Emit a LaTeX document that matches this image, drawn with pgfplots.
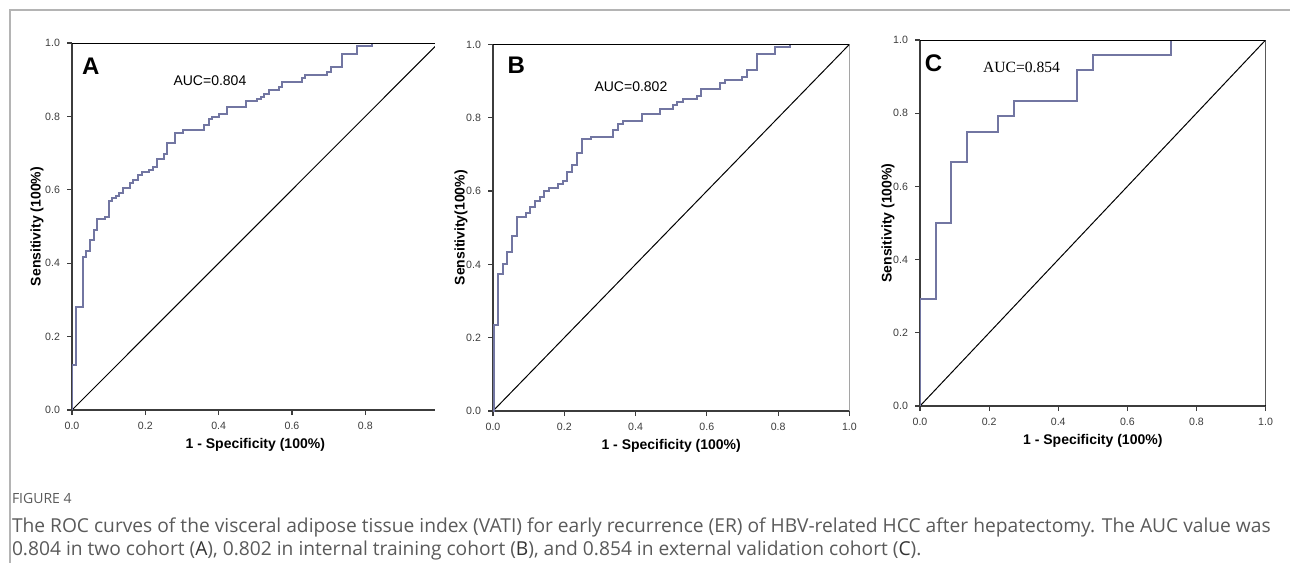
\documentclass[border=0pt]{standalone}
\usepackage{fontspec}
\setmainfont{Liberation Sans}
\newfontfamily\timesfont{Liberation Serif}
\newfontfamily\capfont{Open Sans}
\usepackage{pgfplots}
\pgfplotsset{compat=1.18}

\definecolor{rocline}{HTML}{7276A2}
\definecolor{axisgray}{HTML}{3C3C3C}
\definecolor{framegray}{HTML}{B4B4B4}
\definecolor{captext}{HTML}{5A5A5A}

% one ROC panel, 1px of the reference = 0.5pt
\pgfplotsset{rocpanel/.style={
    scale only axis, anchor=south west,
    xmin=0, ymin=0, ymax=1,
    axis lines*=left,
    axis line style={-, axisgray, line width=0.8pt},
    xtick={0,0.2,0.4,0.6,0.8,1.0},
    ytick={0,0.2,0.4,0.6,0.8,1.0},
    tick align=outside, major tick length=2.5pt,
    tick style={axisgray, line width=0.6pt},
    tick label style={font=\fontsize{5.3}{6}\selectfont, text=axisgray},
    /pgf/number format/fixed, /pgf/number format/fixed zerofill,
    /pgf/number format/precision=1, /pgf/number format/assume math mode=true,
    label style={font=\fontsize{7}{8}\selectfont\bfseries},
    xlabel={1 - Specificity (100\%)},
  },
  roc/.style={const plot, rocline, line width=1pt, mark=none},
  diag/.style={black, line width=0.5pt, mark=none},
}

\begin{document}
\begin{tikzpicture}
\useasboundingbox (0,0) rectangle (645pt,-281.5pt);
\draw[framegray, line width=0.7pt] (645pt,-5pt) -- (5pt,-5pt) -- (5pt,-281.5pt);

% ---- A
\begin{axis}[rocpanel, at={(36pt,-205pt)}, width=181.5pt, height=183.5pt,
    xmax=0.99, xtick={0,0.2,0.4,0.6,0.8},
    ylabel={Sensitivity (100\%)},
    ylabel style={at={(rel axis cs:-0.0964,0.5)}, anchor=center},
    xlabel style={at={(rel axis cs:0.505,-0.095)}, anchor=center}]
  \addplot[diag] coordinates {(0,0) (1,1)};
  \addplot[roc] coordinates {
    (0,0) (0,0.123) (0.011,0.281) (0.031,0.418) (0.038,0.434) (0.049,0.463)
    (0.060,0.490) (0.069,0.520) (0.090,0.527) (0.101,0.569) (0.110,0.577)
    (0.119,0.583) (0.128,0.592) (0.138,0.606) (0.158,0.618) (0.167,0.627)
    (0.179,0.641) (0.191,0.649) (0.211,0.654) (0.220,0.663) (0.231,0.684)
    (0.251,0.698) (0.260,0.727) (0.281,0.756) (0.302,0.763) (0.361,0.777)
    (0.373,0.792) (0.383,0.799) (0.401,0.806) (0.424,0.826) (0.475,0.843)
    (0.504,0.848) (0.515,0.854) (0.525,0.861) (0.536,0.872) (0.565,0.879)
    (0.574,0.894) (0.626,0.906) (0.635,0.913) (0.695,0.922) (0.706,0.934)
    (0.737,0.970) (0.778,0.991) (0.817,1.0) (1,1)};
  \draw[black, line width=0.5pt] (rel axis cs:0,1) -- (rel axis cs:1,1);
  \node[font=\fontsize{12}{14}\selectfont\bfseries] at (rel axis cs:0.052,0.937) {A};
  \node[font=\fontsize{7}{8}\selectfont] at (rel axis cs:0.380,0.896) {AUC=0.804};
\end{axis}

% ---- B
\begin{axis}[rocpanel, at={(246.5pt,-205.5pt)}, width=178.2pt, height=183.3pt,
    xmax=1,
    ylabel={Sensitivity(100\%)},
    ylabel style={at={(rel axis cs:-0.0898,0.5)}, anchor=center},
    xlabel style={at={(rel axis cs:0.5,-0.0946)}, anchor=center}]
  \addplot[diag] coordinates {(0,0) (1,1)};
  \addplot[roc] coordinates {
    (0,0) (0.004,0.235) (0.015,0.374) (0.027,0.400) (0.040,0.434) (0.053,0.478)
    (0.066,0.530) (0.093,0.539) (0.104,0.557) (0.117,0.574) (0.132,0.583)
    (0.143,0.600) (0.157,0.609) (0.183,0.618) (0.196,0.627) (0.208,0.653)
    (0.221,0.671) (0.235,0.704) (0.249,0.741) (0.274,0.748) (0.338,0.766)
    (0.352,0.782) (0.364,0.791) (0.417,0.809) (0.469,0.825) (0.506,0.834)
    (0.517,0.843) (0.532,0.852) (0.572,0.860) (0.583,0.879) (0.637,0.894)
    (0.650,0.903) (0.700,0.912) (0.712,0.930) (0.740,0.975) (0.791,0.992)
    (0.832,1.0) (1,1)};
  \draw[black, line width=0.5pt] (rel axis cs:0,1) -- (rel axis cs:1,1) -- (rel axis cs:1,0);
  \node[font=\fontsize{12}{14}\selectfont\bfseries] at (rel axis cs:0.065,0.944) {B};
  \node[font=\fontsize{7}{8}\selectfont] at (rel axis cs:0.387,0.884) {AUC=0.802};
\end{axis}

% ---- C
\begin{axis}[rocpanel, at={(460pt,-203pt)}, width=172.8pt, height=183pt,
    xmax=1,
    ylabel={Sensitivity (100\%)},
    ylabel style={at={(rel axis cs:-0.0926,0.5)}, anchor=center},
    xlabel style={at={(rel axis cs:0.5,-0.0956)}, anchor=center}]
  \addplot[diag] coordinates {(0,0) (1,1)};
  \addplot[roc] coordinates {
    (0,0) (0,0.292) (0.045,0.500) (0.091,0.667) (0.136,0.750) (0.227,0.792)
    (0.273,0.833) (0.455,0.917) (0.500,0.958) (0.727,1.0) (1,1)};
  \draw[black, line width=0.5pt] (rel axis cs:0,1) -- (rel axis cs:1,1) -- (rel axis cs:1,0);
  \node[font=\fontsize{12}{14}\selectfont\bfseries] at (rel axis cs:0.039,0.937) {C};
  \node[font=\timesfont\fontsize{7.8}{9}\selectfont] at (rel axis cs:0.294,0.924) {AUC=0.854};
\end{axis}

% ---- caption
\begin{scope}[every node/.style={anchor=base west, inner sep=0pt, text=captext}]
  \node[font=\capfont\fontsize{7}{8}\selectfont] at (5.8pt,-251.5pt) {FIGURE 4};
  \node[font=\capfont\fontsize{9.6}{11}\selectfont] at (5.8pt,-266pt)
    {The ROC curves of the visceral adipose tissue index (VATI) for early recurrence (ER) of HBV-related HCC after hepatectomy. The AUC value was};
  \node[font=\capfont\fontsize{9.6}{11}\selectfont] at (5.8pt,-277.5pt)
    {0.804 in two cohort (\textcolor{black!80}{A}), 0.802 in internal training cohort (\textcolor{black!80}{B}), and 0.854 in external validation cohort (\textcolor{black!80}{C}).};
\end{scope}
\end{tikzpicture}
\end{document}
